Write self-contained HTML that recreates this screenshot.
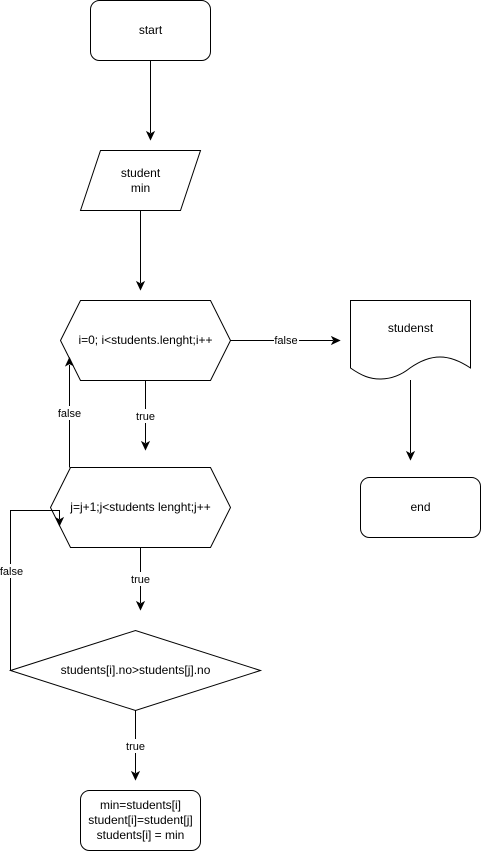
<!DOCTYPE html>
<html lang="en">
<head>
<meta charset="utf-8">
<title>Flowchart</title>
<style>
html,body{margin:0;padding:0;background:#fff;}
svg{display:block;}
text{font-family:"Liberation Sans",sans-serif;font-size:12px;fill:#000;text-anchor:middle;}
.shape{fill:#fff;stroke:#000;stroke-width:1;}
.edge{fill:none;stroke:#000;stroke-width:1;}
.head{fill:#000;stroke:#000;stroke-width:1;}
.lbl{font-size:11px;}
.bg{fill:#fff;stroke:none;}
</style>
</head>
<body>
<svg width="481" height="851" viewBox="0 0 481 851" xmlns="http://www.w3.org/2000/svg">

<!-- edges -->
<g>
<path class="edge" d="M150.5 60.5V133"/>
<path class="head" d="M150.5 139.5l-3.5-7.5 3.5 1.9 3.5-1.9z"/>
</g>
<g>
<path class="edge" d="M140.5 210.5V283"/>
<path class="head" d="M140.5 289.5l-3.5-7.5 3.5 1.9 3.5-1.9z"/>
</g>

<!-- shapes -->
<rect class="shape" x="90.5" y="0.5" width="120" height="60" rx="9" ry="9"/>
<text x="150.5" y="34">start</text>

<path class="shape" d="M80.5 210.5L100.5 150.5H200.5L180.5 210.5Z"/>
<text x="140.5" y="177">student</text>
<text x="140.5" y="192">min</text>

<path class="shape" d="M60.5 340.5L80.5 300.5H210.5L230.5 340.5L210.5 380.5H80.5Z"/>
<text x="145.5" y="344">i=0; i&lt;students.lenght;i++</text>

<path class="shape" d="M50.5 507.5L70.5 467.5H210.5L230.5 507.5L210.5 547.5H70.5Z"/>
<text x="140.5" y="511">j=j+1;j&lt;students lenght;j++</text>

<path class="shape" d="M10.5 670.5L135.5 630.5L260.5 670.5L135.5 710.5Z"/>
<text x="135.5" y="674">students[i].no&gt;students[j].no</text>

<rect class="shape" x="80.5" y="790.5" width="120" height="60" rx="9" ry="9"/>
<text x="140.5" y="809">min=students[i]</text>
<text x="140.5" y="824">student[i]=student[j]</text>
<text x="140.5" y="839">students[i] = min</text>

<path class="shape" d="M350.5 300.5H470.5V368C460 361 450 357 440 357C430 357 420 361 410 368C405 372 395 379 380 379C370 379 362 376 350.5 368Z"/>
<text x="410.5" y="332">studenst</text>

<rect class="shape" x="360.5" y="477.5" width="120" height="60" rx="9" ry="9"/>
<text x="420.5" y="511">end</text>

<!-- remaining edges -->
<g>
<path class="edge" d="M145.5 380.5V443"/>
<path class="head" d="M145.5 449.5l-3.5-7.5 3.5 1.9 3.5-1.9z"/>
<rect class="bg" x="135" y="409" width="21" height="14"/>
<text class="lbl" x="145.5" y="420">true</text>
</g>
<g>
<path class="edge" d="M69.5 467.5V365"/>
<path class="head" d="M69.5 358l-3.5 7.5 3.5-1.9 3.5 1.9z"/>
<rect class="bg" x="57" y="406" width="25" height="14"/>
<text class="lbl" x="69.5" y="417">false</text>
</g>
<g>
<path class="edge" d="M230.5 340.5H333"/>
<path class="head" d="M339.5 340.5l-7.5-3.5 1.9 3.5-1.9 3.5z"/>
<rect class="bg" x="274" y="334" width="25" height="13"/>
<text class="lbl" x="286" y="344">false</text>
</g>
<g>
<path class="edge" d="M410.5 380V453"/>
<path class="head" d="M410.5 459.5l-3.5-7.5 3.5 1.9 3.5-1.9z"/>
</g>
<g>
<path class="edge" d="M140.5 547.5V603"/>
<path class="head" d="M140.5 609.5l-3.5-7.5 3.5 1.9 3.5-1.9z"/>
<rect class="bg" x="130" y="572" width="21" height="14"/>
<text class="lbl" x="140.5" y="583">true</text>
</g>
<g>
<path class="edge" d="M10.5 670.5V510.5H59.5V519"/>
<path class="head" d="M59.5 525.5l-3.5-7.5 3.5 1.9 3.5-1.9z"/>
<rect class="bg" x="0" y="564" width="23" height="14"/>
<text class="lbl" x="11.5" y="575">false</text>
</g>
<g>
<path class="edge" d="M135.5 710.5V773"/>
<path class="head" d="M135.5 779.5l-3.5-7.5 3.5 1.9 3.5-1.9z"/>
<rect class="bg" x="125" y="739" width="21" height="14"/>
<text class="lbl" x="135.5" y="750">true</text>
</g>
</svg>
</body>
</html>
